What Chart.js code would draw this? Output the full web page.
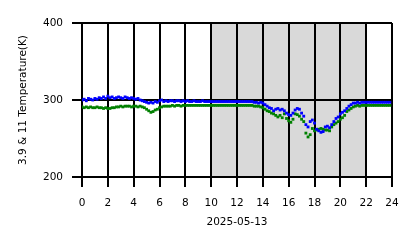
<!DOCTYPE html>
<html>
<head>
<meta charset="utf-8">
<script src="https://cdn.jsdelivr.net/npm/chart.js@4"></script>
<style>
  html, body { margin: 0; padding: 0; background: #fff; }
  #wrap { width: 418px; height: 248px; }
</style>
</head>
<body>
<div id="wrap"><canvas id="chart" width="418" height="248"></canvas></div>
<script>
// 10-minute samples over the day, one row per hour
const blueTemps = [
    300, 301, 299, 302, 301, 300,
    302, 301, 303, 302, 304, 302,
    305, 303, 304, 302, 303, 304,
    303, 302, 304, 303, 302, 303,
    302, 301, 302, 300, 299, 298,
    297, 296, 297, 296, 298, 297,
    299, 300, 298, 299, 298, 299,
    299, 298, 299, 299, 298, 299,
    298, 299, 298, 298, 299, 298,
    298, 298, 299, 298, 298, 298,
    298, 298, 298, 298, 298, 298,
    298, 298, 298, 298, 298, 298,
    298, 298, 298, 298, 298, 298,
    298, 298, 297, 297, 296, 297,
    296, 294, 292, 290, 289, 286,
    288, 289, 287, 288, 286, 283,
    281, 280, 283, 287, 289, 288,
    283, 279, 268, 265, 272, 274,
    270, 262, 260, 258, 259, 265,
    266, 264, 268, 272, 276, 278,
    282, 284, 286, 289, 292, 294,
    296, 296, 297, 296, 297, 297,
    297, 297, 297, 297, 297, 297,
    297, 297, 297, 297, 297, 297
];
const greenTemps = [
    291, 290, 291, 290, 291, 290,
    290, 291, 290, 290, 289, 290,
    289, 289, 290, 290, 291, 291,
    292, 291, 292, 292, 292, 291,
    292, 292, 291, 292, 291, 290,
    288, 286, 284, 285, 287, 288,
    290, 291, 292, 292, 292, 292,
    293, 292, 293, 293, 292, 293,
    293, 293, 293, 293, 293, 293,
    293, 293, 293, 293, 293, 293,
    293, 293, 293, 293, 293, 293,
    293, 293, 293, 293, 293, 293,
    293, 293, 293, 293, 293, 293,
    293, 293, 292, 292, 292, 291,
    290, 288, 286, 285, 283, 282,
    280, 278, 280, 277, 282, 276,
    273, 271, 275, 282, 281, 279,
    275, 272, 257, 252, 255, 263,
    260, 261, 262, 263, 262, 261,
    261, 260, 265, 268, 270, 272,
    275, 277, 280, 285, 287, 289,
    291, 292, 293, 292, 293, 293,
    293, 293, 293, 293, 293, 293,
    293, 293, 293, 293, 293, 293
];
const hours = blueTemps.map((_, i) => i / 6);
const shadeRange = [10, 22];
const xTicks = [0, 2, 4, 6, 8, 10, 12, 14, 16, 18, 20, 22, 24];
const yTicks = [200, 300, 400];
const xTitle = '2025-05-13';
const yTitle = '3.9 & 11 Temperature(K)';

Chart.defaults.font.family = 'DejaVu Sans';
Chart.defaults.font.size = 10.5;
Chart.defaults.color = '#000';

const toPoints = vals => vals.map((v, i) => ({x: hours[i], y: v}));

// grey band behind the grid
const shadePlugin = {
    id: 'shade',
    beforeDraw(chart) {
        const {ctx, chartArea, scales} = chart;
        const x0 = scales.x.getPixelForValue(shadeRange[0]);
        const x1 = scales.x.getPixelForValue(shadeRange[1]);
        ctx.save();
        ctx.fillStyle = '#d9d9d9';
        ctx.fillRect(x0, chartArea.top, x1 - x0, chartArea.bottom - chartArea.top);
        ctx.restore();
    }
};

const gridOpts = {color: '#000', lineWidth: 2, tickLength: 10, drawTicks: true};
const borderOpts = {color: '#000', width: 2};

new Chart(document.getElementById('chart'), {
    type: 'scatter',
    data: {
        datasets: [
            {
                label: 'blue',
                data: toPoints(blueTemps),
                backgroundColor: '#0000ff',
                borderColor: '#0000ff',
                pointStyle: 'rect',
                pointRadius: 2,
                borderWidth: 0,
            },
            {
                label: 'green',
                data: toPoints(greenTemps),
                backgroundColor: '#008000',
                borderColor: '#008000',
                pointStyle: 'rect',
                pointRadius: 2,
                borderWidth: 0,
            },
        ]
    },
    options: {
        responsive: false,
        animation: false,
        devicePixelRatio: 1,
        layout: {padding: {top: 23, right: 26, left: 0, bottom: 0}},
        plugins: {legend: {display: false}, tooltip: {enabled: false}},
        scales: {
            x: {
                type: 'linear',
                min: 0,
                max: 24,
                afterFit: s => { s.height = 71; },
                afterBuildTicks: s => { s.ticks = xTicks.map(v => ({value: v})); },
                ticks: {padding: 10, maxRotation: 0},
                grid: gridOpts,
                border: borderOpts,
                title: {display: true, text: xTitle, padding: {top: 0, bottom: 19}},
            },
            y: {
                min: 200,
                max: 400,
                afterFit: s => { s.width = 82; },
                afterBuildTicks: s => { s.ticks = yTicks.map(v => ({value: v})); },
                ticks: {padding: 9},
                grid: gridOpts,
                border: borderOpts,
                title: {display: true, text: yTitle, padding: {top: 17, bottom: 0}},
            },
        }
    },
    plugins: [shadePlugin]
});
</script>
</body>
</html>
